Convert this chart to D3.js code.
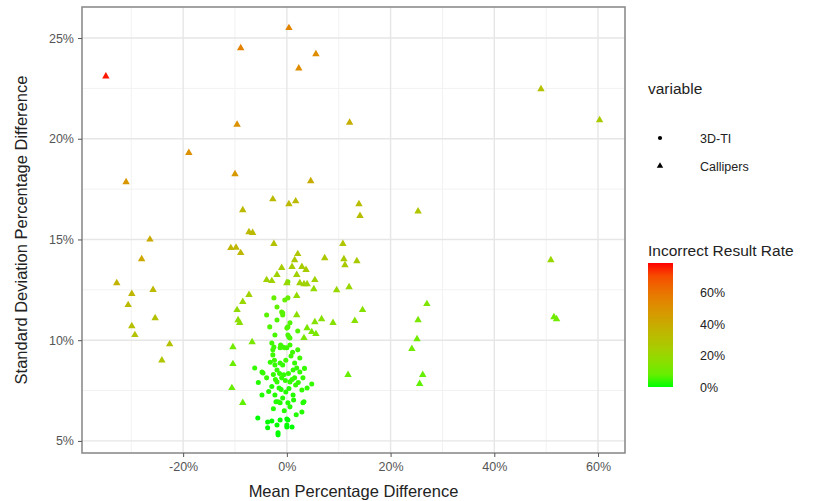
<!DOCTYPE html>
<html>
<head>
<meta charset="utf-8">
<script src="https://cdn.jsdelivr.net/npm/d3@7"></script>
<style>
  body { margin: 0; background: #fff; }
  svg { display: block; font-family: "Liberation Sans", Arial, sans-serif; }
</style>
</head>
<body>
<div id="chart"></div>
<script>
// Callipers: [mean % diff, sd % diff, incorrect result rate]
const callipers = [
  [-34.9, 23.1, 0.78], [-8.9, 24.5, 0.56], [0.4, 25.5, 0.55], [2.3, 23.5, 0.52], [5.6, 24.2, 0.52],
  [-9.6, 20.7, 0.5], [12.1, 20.8, 0.38], [-18.9, 19.3, 0.5], [-31.0, 17.85, 0.48], [-10.0, 18.25, 0.47],
  [4.6, 17.9, 0.4], [-2.7, 17.0, 0.33], [0.4, 16.76, 0.33], [1.7, 16.9, 0.33], [-8.5, 16.46, 0.33],
  [13.9, 16.76, 0.32], [14.1, 16.17, 0.32], [25.3, 16.4, 0.28], [-26.4, 15.0, 0.4],
  [-7.3, 15.37, 0.33], [-6.6, 15.33, 0.33], [-10.8, 14.58, 0.35], [-9.8, 14.6, 0.35], [-8.9, 14.33, 0.35],
  [-2.5, 14.78, 0.3],
  [-28.0, 14.03, 0.42], [-32.8, 12.84, 0.36], [-29.9, 12.3, 0.35], [-25.8, 12.5, 0.34], [-30.6, 11.75, 0.33],
  [-25.4, 11.1, 0.3], [-29.9, 10.7, 0.31], [-29.3, 10.26, 0.3], [-22.6, 9.8, 0.3], [-24.1, 9.0, 0.28],
  [49.0, 22.47, 0.3], [60.3, 20.93, 0.26], [50.9, 13.98, 0.2], [51.5, 11.15, 0.1], [52.0, 11.05, 0.1],
  [2.1, 14.28, 0.28], [1.5, 13.98, 0.27], [7.3, 14.08, 0.27], [10.8, 14.78, 0.28], [11.0, 14.03, 0.26],
  [11.2, 13.73, 0.26], [13.5, 13.93, 0.26], [-1.0, 13.59, 0.25], [1.0, 13.64, 0.25], [2.9, 13.64, 0.25],
  [3.7, 13.49, 0.25], [-1.9, 13.24, 0.22], [-3.9, 12.99, 0.22], [-2.9, 12.94, 0.22], [0.0, 12.84, 0.2],
  [1.9, 13.24, 0.23], [2.5, 12.84, 0.22], [3.3, 12.79, 0.22], [3.9, 12.79, 0.22], [5.4, 12.99, 0.22],
  [9.6, 12.49, 0.2], [12.0, 12.64, 0.2], [5.2, 12.54, 0.18], [1.9, 12.2, 0.18], [1.9, 11.25, 0.16],
  [5.4, 10.9, 0.15], [6.7, 11.05, 0.15], [8.9, 10.86, 0.15], [13.1, 10.96, 0.15], [14.6, 11.5, 0.15],
  [3.9, 10.6, 0.12], [4.8, 10.41, 0.12], [5.6, 10.31, 0.12], [3.3, 10.11, 0.12],
  [-9.6, 11.5, 0.18], [-9.4, 11.0, 0.16], [-9.1, 10.86, 0.16], [-8.5, 11.9, 0.2], [-7.3, 12.25, 0.22],
  [-10.4, 9.66, 0.1], [-6.7, 9.91, 0.12], [-10.4, 8.82, 0.09], [-10.6, 7.63, 0.08], [-8.5, 6.89, 0.07],
  [11.8, 8.28, 0.08], [26.2, 8.28, 0.08], [25.6, 7.83, 0.07], [24.1, 9.57, 0.1], [25.1, 10.06, 0.1],
  [25.3, 11.0, 0.12], [27.0, 11.8, 0.13]
]

// 3D-TI: [mean % diff, sd % diff, incorrect result rate]
const threeDTI = [
  [-2.9, 9.86, 0.03], [-2.5, 9.66, 0.03], [-2.7, 9.52, 0.03], [-2.7, 9.27, 0.03], [0.4, 10.16, 0.04],
  [0.6, 9.76, 0.03], [-1.3, 9.62, 0.03], [-0.8, 9.66, 0.03], [0.0, 9.62, 0.03], [-1.2, 9.76, 0.03],
  [-0.4, 9.62, 0.03], [2.5, 9.12, 0.03], [1.5, 8.87, 0.02], [-1.3, 8.87, 0.02], [-0.8, 8.77, 0.02],
  [1.2, 8.52, 0.02], [1.9, 8.62, 0.02], [2.5, 8.42, 0.02], [3.1, 8.13, 0.02], [1.5, 8.13, 0.02],
  [0.6, 7.93, 0.02], [4.8, 7.83, 0.02], [3.9, 7.63, 0.02], [2.9, 7.53, 0.02], [1.2, 7.28, 0.01],
  [-1.7, 6.94, 0.01], [0.2, 6.89, 0.01], [0.6, 6.69, 0.01], [3.1, 6.89, 0.01], [2.9, 6.44, 0.01],
  [-1.3, 6.04, 0.0], [0.2, 6.04, 0.0], [0.0, 5.79, 0.0], [1.0, 5.69, 0.0], [-1.7, 5.3, 0.0],
  [-6.2, 8.62, 0.02], [-4.8, 8.42, 0.02], [-3.9, 8.13, 0.02], [-2.3, 8.77, 0.02], [-1.9, 7.93, 0.02],
  [-2.3, 7.28, 0.01], [-4.8, 7.28, 0.01], [-5.6, 6.14, 0.0], [-3.7, 5.94, 0.0], [-1.9, 5.79, 0.0],
  [-3.7, 5.65, 0.0], [-4.6, 8.37, 0.02], [-2.1, 6.94, 0.01], [-1.3, 6.89, 0.01], [3.3, 6.94, 0.01],
  [-2.9, 5.99, 0.0], [0.0, 6.09, 0.0], [0.0, 5.69, 0.0], [-1.7, 5.4, 0.0],
  [-3.9, 11.25, 0.06], [-1.0, 11.4, 0.06], [-0.8, 11.35, 0.06], [-1.9, 11.0, 0.05], [0.2, 10.66, 0.05],
  [0.0, 10.6, 0.05], [-3.3, 10.66, 0.05], [-2.5, 12.1, 0.08], [-0.4, 12.0, 0.08], [0.2, 12.1, 0.08],
  [-1.9, 11.65, 0.07], [-0.8, 11.25, 0.06], [0.6, 10.86, 0.05], [0.2, 10.26, 0.04], [0.6, 10.11, 0.04],
  [2.1, 10.46, 0.05], [-2.3, 10.26, 0.04], [0.2, 12.9, 0.1],
  [-0.6, 8.28, 0.02], [-1.5, 7.63, 0.01], [-0.2, 7.43, 0.01], [1.7, 7.78, 0.02], [-1.0, 8.13, 0.02],
  [0.8, 9.22, 0.03], [2.1, 9.52, 0.03], [-1.9, 8.52, 0.02], [1.3, 7.03, 0.01], [-0.8, 7.13, 0.01],
  [-2.6, 8.3, 0.02], [-2.2, 8.05, 0.02], [-1.4, 8.35, 0.02], [-0.3, 8.0, 0.02], [0.3, 8.35, 0.02],
  [1.0, 8.05, 0.02], [2.2, 7.9, 0.02], [-2.9, 7.7, 0.01], [-1.1, 7.55, 0.01], [0.4, 7.6, 0.01],
  [-2.4, 9.0, 0.03], [-0.2, 9.0, 0.03], [1.1, 9.4, 0.03], [3.4, 8.6, 0.02], [-3.2, 8.9, 0.02],
  [-5.5, 7.9, 0.01], [-3.5, 7.45, 0.01], [-0.5, 6.5, 0.01], [1.8, 6.3, 0.01], [-2.6, 6.6, 0.01]
]

const xTicks = [-20, 0, 20, 40, 60]
const xMinor = [-30, -10, 10, 30, 50]
const yTicks = [5, 10, 15, 20, 25]
const yMinor = [7.5, 12.5, 17.5, 22.5]
const rateTicks = [0, 0.2, 0.4, 0.6]
const shapeLabels = ["3D-TI", "Callipers"]

const width = 822, height = 501
const panel = { left: 82, right: 625, top: 7, bottom: 453 }

const svg = d3.select("#chart").append("svg")
    .attr("width", width)
    .attr("height", height)

const x = d3.scaleLinear().domain([-39.5, 65.2]).range([panel.left, panel.right])
const y = d3.scaleLinear().domain([4.4, 26.54]).range([panel.bottom, panel.top])
const color = d3.scaleLinear().domain([0, 0.79]).range(["#00ff00", "#ff0000"])
    .interpolate(d3.interpolateLab)

// grid
const grid = svg.append("g")
grid.selectAll(".xminor").data(xMinor).join("line")
    .attr("x1", d => x(d)).attr("x2", d => x(d))
    .attr("y1", panel.top).attr("y2", panel.bottom)
    .attr("stroke", "#f2f2f2").attr("stroke-width", 1)
grid.selectAll(".yminor").data(yMinor).join("line")
    .attr("y1", d => y(d)).attr("y2", d => y(d))
    .attr("x1", panel.left).attr("x2", panel.right)
    .attr("stroke", "#f2f2f2").attr("stroke-width", 1)
grid.selectAll(".xmajor").data(xTicks).join("line")
    .attr("x1", d => x(d)).attr("x2", d => x(d))
    .attr("y1", panel.top).attr("y2", panel.bottom)
    .attr("stroke", "#e6e6e6").attr("stroke-width", 1.4)
grid.selectAll(".ymajor").data(yTicks).join("line")
    .attr("y1", d => y(d)).attr("y2", d => y(d))
    .attr("x1", panel.left).attr("x2", panel.right)
    .attr("stroke", "#e6e6e6").attr("stroke-width", 1.4)

// points
const tri = d3.symbol(d3.symbolTriangle, 24)
const dot = d3.symbol(d3.symbolCircle, 20)

svg.append("g").selectAll("path").data(threeDTI).join("path")
    .attr("transform", d => `translate(${x(d[0])},${y(d[1])})`)
    .attr("d", dot)
    .attr("fill", d => color(d[2]))

svg.append("g").selectAll("path").data(callipers).join("path")
    .attr("transform", d => `translate(${x(d[0])},${y(d[1])})`)
    .attr("d", tri)
    .attr("fill", d => color(d[2]))

// border
svg.append("rect")
    .attr("x", panel.left).attr("y", panel.top)
    .attr("width", panel.right - panel.left).attr("height", panel.bottom - panel.top)
    .attr("fill", "none").attr("stroke", "#8c8c8c").attr("stroke-width", 1.6)

// axes
const xAxis = svg.append("g")
    .attr("transform", `translate(0,${panel.bottom})`)
    .call(d3.axisBottom(x).tickValues(xTicks).tickSize(4).tickPadding(5).tickFormat(d => d + "%"))
xAxis.select(".domain").remove()
const yAxis = svg.append("g")
    .attr("transform", `translate(${panel.left},0)`)
    .call(d3.axisLeft(y).tickValues(yTicks).tickSize(4).tickPadding(4).tickFormat(d => d + "%"))
yAxis.select(".domain").remove()
svg.selectAll(".tick line").attr("stroke", "#555")
svg.selectAll(".tick text").attr("fill", "#555").attr("font-size", 12.5)
    .attr("font-family", "Liberation Sans, Arial, sans-serif")

svg.append("text")
    .attr("x", (panel.left + panel.right) / 2)
    .attr("y", 497)
    .attr("text-anchor", "middle")
    .attr("font-size", 16.5)
    .attr("fill", "#222")
    .text("Mean Percentage Difference")

svg.append("text")
    .attr("transform", `translate(27,${(panel.top + panel.bottom) / 2}) rotate(-90)`)
    .attr("text-anchor", "middle")
    .attr("font-size", 16.5)
    .attr("fill", "#222")
    .text("Standard Deviation Percentage Difference")

// legend: shape
const leg = svg.append("g")
leg.append("text").attr("x", 648).attr("y", 94).attr("font-size", 15.5).attr("fill", "#222").text("variable")
const shapeKeys = leg.selectAll(".key").data(shapeLabels).join("g")
    .attr("transform", (d, i) => `translate(660,${138 + i * 28})`)
shapeKeys.append("path")
    .attr("d", (d, i) => i === 0 ? d3.symbol(d3.symbolCircle, 14)() : d3.symbol(d3.symbolTriangle, 18)())
    .attr("fill", "#000")
shapeKeys.append("text")
    .attr("x", 40).attr("y", 4.5)
    .attr("font-size", 12.5).attr("fill", "#222")
    .text(d => d)

// legend: colour bar
leg.append("text").attr("x", 648).attr("y", 256).attr("font-size", 15.5).attr("fill", "#222").text("Incorrect Result Rate")

const barTop = 263, barBottom = 387
const rateY = d3.scaleLinear().domain(color.domain()).range([barBottom, barTop])
const grad = svg.append("defs").append("linearGradient")
    .attr("id", "rateGrad").attr("x1", 0).attr("y1", 1).attr("x2", 0).attr("y2", 0)
grad.selectAll("stop").data(d3.range(0, 1.001, 0.1)).join("stop")
    .attr("offset", d => d)
    .attr("stop-color", d => color(d * 0.79))
leg.append("rect")
    .attr("x", 648).attr("y", barTop)
    .attr("width", 25).attr("height", barBottom - barTop)
    .attr("fill", "url(#rateGrad)")
leg.selectAll(".rate").data(rateTicks).join("text")
    .attr("x", 700).attr("y", d => rateY(d) + 4.5)
    .attr("font-size", 12.5).attr("fill", "#222")
    .text(d => Math.round(d * 100) + "%")
</script>
</body>
</html>
